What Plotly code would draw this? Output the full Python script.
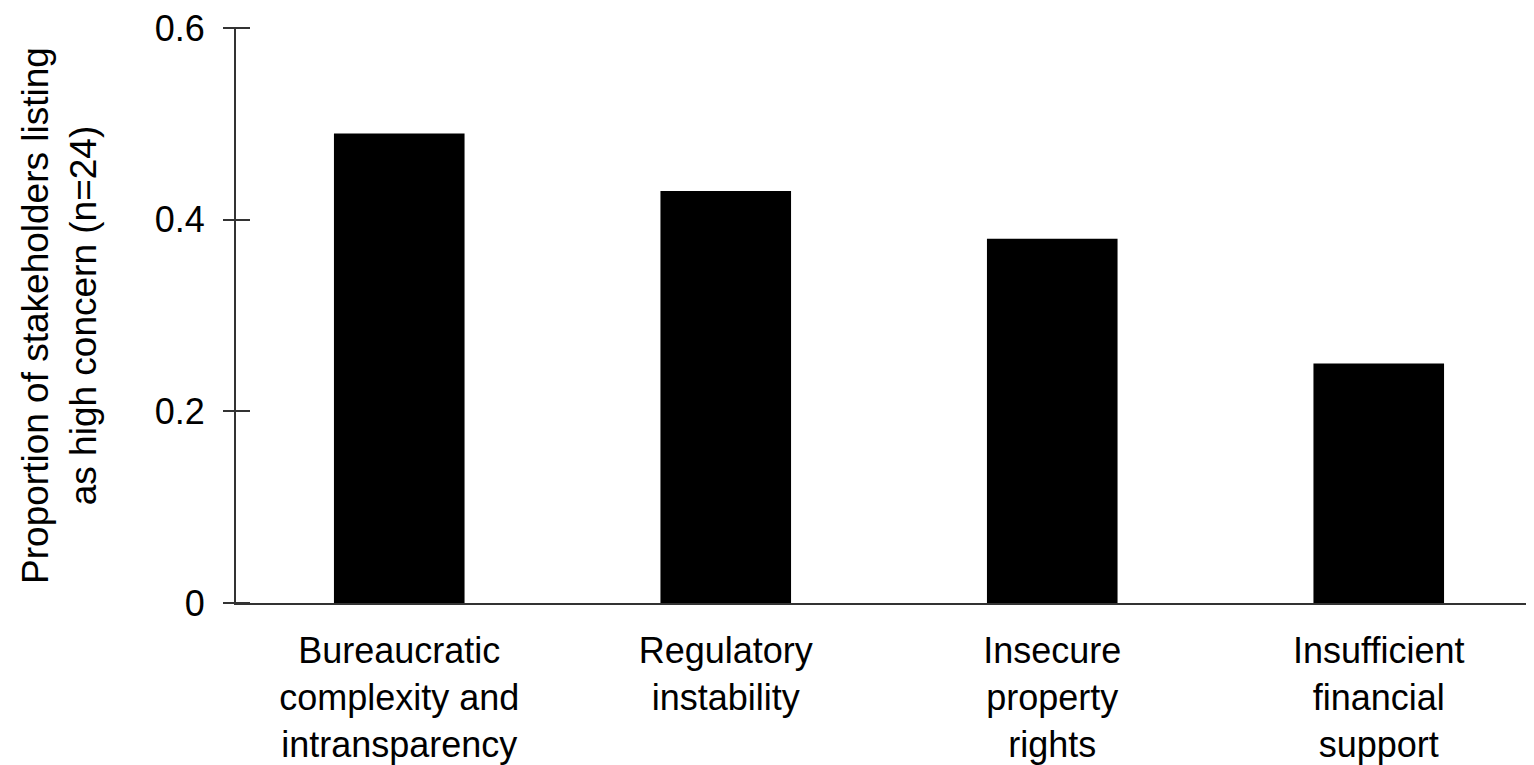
import plotly.graph_objects as go

categories = [
    "Bureaucratic<br>complexity and<br>intransparency",
    "Regulatory<br>instability",
    "Insecure<br>property<br>rights",
    "Insufficient<br>financial<br>support",
]
values = [0.49, 0.43, 0.38, 0.25]
y_ticks = [0, 0.2, 0.4, 0.6]
y_tick_labels = ["0", "0.2", "0.4", "0.6"]
y_title = "Proportion of stakeholders listing<br>as high concern (n=24)"

FONT = "Liberation Sans, Arial, Helvetica, sans-serif"

fig = go.Figure()
fig.add_trace(go.Bar(x=categories, y=values, marker=dict(color="black", line=dict(width=0)),
                     showlegend=False, hoverinfo="x+y"))
# same data on a free y axis that draws the crossing tick marks
fig.add_trace(go.Bar(x=categories, y=values, yaxis="y2", opacity=0,
                     showlegend=False, hoverinfo="skip"))

fig.update_layout(
    width=1534, height=765,
    margin=dict(l=228, r=0, t=20, b=170),
    paper_bgcolor="white", plot_bgcolor="white",
    bargap=0.6,
    barmode="overlay",
    font=dict(family=FONT, color="black", size=36),
    xaxis=dict(
        showline=True, linecolor="#333", linewidth=2,
        ticks="", showgrid=False, zeroline=False,
        tickfont=dict(size=36, family=FONT, color="black"),
        range=[-0.5, 3.5],
        ticklabelstandoff=15,
    ),
    yaxis=dict(
        range=[0, 0.6], tickvals=y_ticks, ticktext=y_tick_labels,
        showline=True, linecolor="#333", linewidth=2,
        ticks="outside", ticklen=11, tickwidth=2, tickcolor="#333",
        showgrid=False, zeroline=False,
        tickfont=dict(size=36, family=FONT, color="black"),
        ticklabelstandoff=11,
        ticklabeloverflow="allow",
        title=dict(text=y_title, font=dict(size=37, family=FONT, color="black"), standoff=47),
    ),
    yaxis2=dict(
        overlaying="y", side="left", anchor="free", position=14 / 1306,
        range=[0, 0.6], tickmode="array", tickvals=y_ticks,
        showticklabels=False, ticks="outside", ticklen=25, tickwidth=2, tickcolor="#333",
        showline=False, showgrid=False, zeroline=False,
    ),
)

fig.write_html("out.html")
